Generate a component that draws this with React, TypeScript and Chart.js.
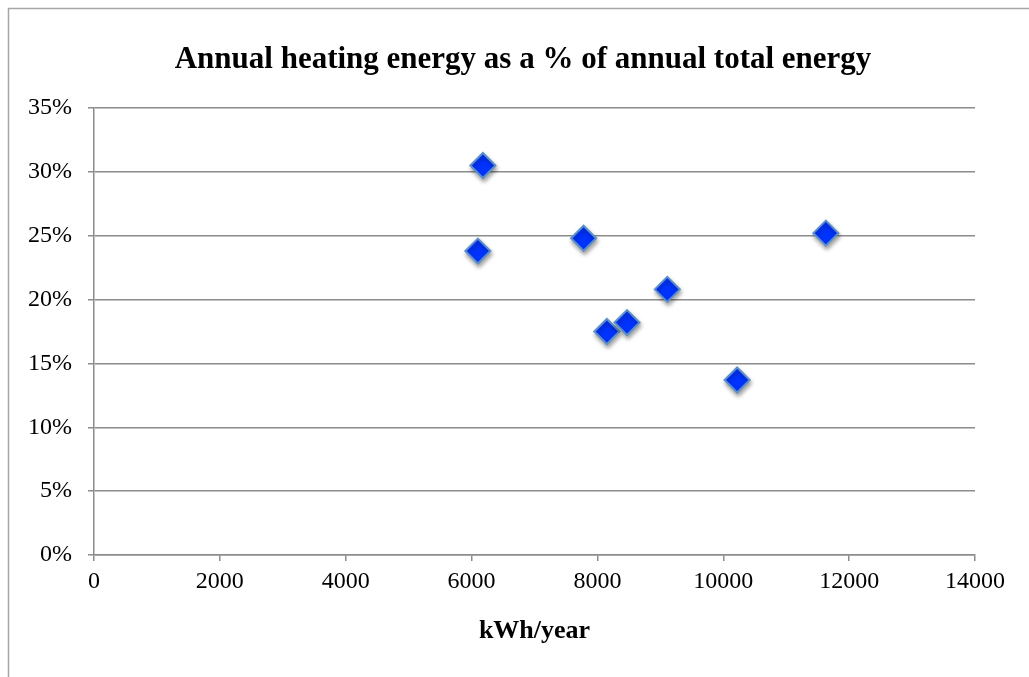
import React, { useEffect, useRef } from "react";
import { Chart, registerables } from "chart.js";

Chart.register(...registerables);

const titleText = "Annual heating energy as a % of annual total energy";
const xAxisTitle = "kWh/year";
const xValues = [6180, 6100, 7780, 8150, 8470, 9110, 10220, 11630];
const yValues = [30.5, 23.8, 24.8, 17.5, 18.2, 20.8, 13.7, 25.2];
const xTicks = [0, 2000, 4000, 6000, 8000, 10000, 12000, 14000];
const yTicks = [0, 5, 10, 15, 20, 25, 30, 35];

const FONT = "'Liberation Serif', 'Times New Roman', serif";

const framePlugin = {
  id: "frame",
  beforeDraw(chart: any) {
    const ctx = chart.ctx;
    ctx.save();
    ctx.fillStyle = "#ffffff";
    ctx.fillRect(0, 0, chart.width, chart.height);
    ctx.strokeStyle = "#a6a6a6";
    ctx.lineWidth = 1.5;
    ctx.beginPath();
    ctx.moveTo(8.5, chart.height);
    ctx.lineTo(8.5, 8.5);
    ctx.lineTo(chart.width, 8.5);
    ctx.stroke();
    ctx.fillStyle = "#000";
    ctx.font = "bold 31px " + FONT;
    ctx.textAlign = "center";
    ctx.textBaseline = "middle";
    ctx.fillText(titleText, 523, 60);
    ctx.restore();
  },
};

const shadowPlugin = {
  id: "markerShadow",
  beforeDatasetsDraw(chart: any) {
    const ctx = chart.ctx;
    ctx.save();
    ctx.shadowColor = "rgba(0,0,0,0.35)";
    ctx.shadowBlur = 4;
    ctx.shadowOffsetX = 1;
    ctx.shadowOffsetY = 3;
  },
  afterDatasetsDraw(chart: any) {
    chart.ctx.restore();
  },
};

export default function App() {
  const ref = useRef<HTMLCanvasElement | null>(null);
  useEffect(() => {
    if (!ref.current) return;
    const chart = new Chart(ref.current, {
      type: "scatter",
      data: {
        datasets: [
          {
            data: xValues.map((x, i) => ({ x, y: yValues[i] })),
            pointStyle: "rectRot",
            pointRadius: 12.5,
            pointHoverRadius: 12.5,
            backgroundColor: "#0033ff",
            borderColor: "#5b8fcb",
            borderWidth: 2,
          },
        ],
      },
      plugins: [framePlugin, shadowPlugin],
      options: {
        responsive: false,
        animation: false,
        events: [],
        layout: { padding: { left: 0, right: 54, top: 108, bottom: 30 } },
        plugins: {
          legend: { display: false },
          tooltip: { enabled: false },
          title: { display: false },
        },
        scales: {
          x: {
            type: "linear",
            min: 0,
            max: 14000,
            afterBuildTicks: (s: any) => {
              s.ticks = xTicks.map((v) => ({ value: v }));
            },
            afterFit: (s: any) => {
              s.height = 92;
            },
            ticks: {
              color: "#000",
              font: { family: FONT, size: 24 },
              padding: 6,
              maxRotation: 0,
              autoSkip: false,
              callback: (v: any) => String(v),
            },
            grid: {
              drawOnChartArea: false,
              drawTicks: true,
              tickLength: 6,
              color: "#8c8c8c",
              lineWidth: 1.5,
            },
            border: { color: "#8c8c8c", width: 1.5 },
            title: {
              display: true,
              text: xAxisTitle,
              color: "#000",
              font: { family: FONT, size: 26, weight: "bold" },
              padding: { top: 0, bottom: 0 },
            },
          },
          y: {
            type: "linear",
            min: 0,
            max: 35,
            afterBuildTicks: (s: any) => {
              s.ticks = yTicks.map((v) => ({ value: v }));
            },
            afterFit: (s: any) => {
              s.width = 94;
            },
            ticks: {
              color: "#000",
              font: { family: FONT, size: 24 },
              padding: 16,
              callback: (v: any) => v + "%",
            },
            grid: {
              color: "#8c8c8c",
              lineWidth: 1.5,
              tickLength: 6,
              drawTicks: true,
            },
            border: { color: "#8c8c8c", width: 1.5 },
          },
        },
      },
    });
    return () => chart.destroy();
  }, []);
  return (
    <div style={{ position: "fixed", left: 0, top: 0, width: 1029, height: 677, background: "#fff" }}>
      <canvas ref={ref} width={1029} height={677} style={{ display: "block" }} />
    </div>
  );
}
